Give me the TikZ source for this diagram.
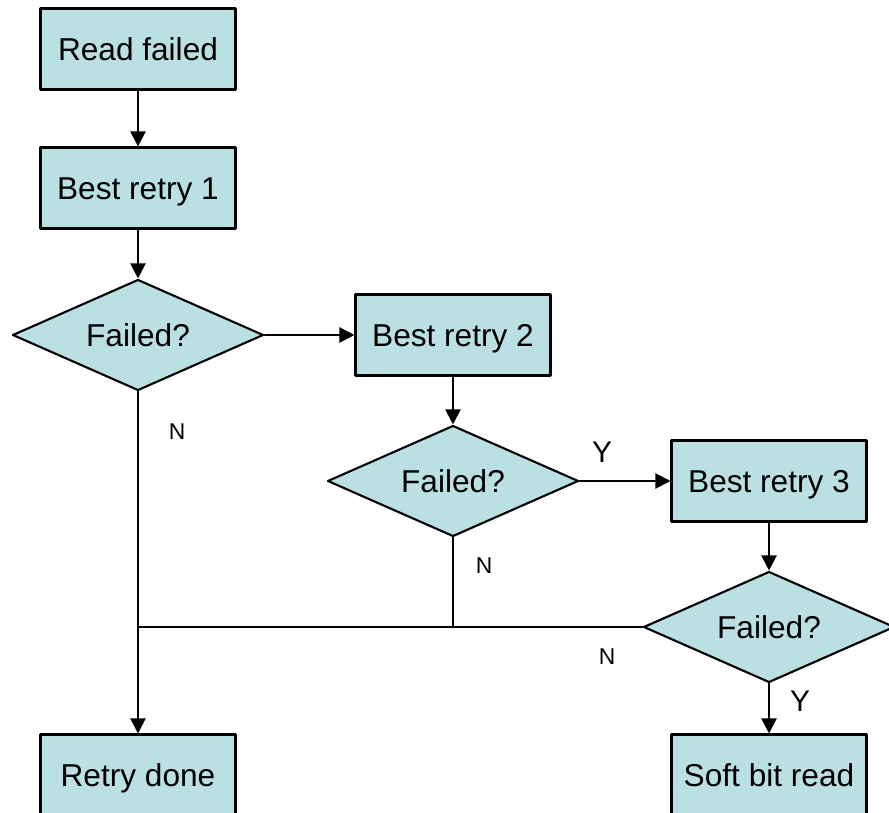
\documentclass[tikz,border=0pt]{standalone}
\usepackage{fontspec}
\setmainfont{Liberation Sans}
\usetikzlibrary{arrows.meta,shapes.geometric}
\definecolor{boxfill}{RGB}{187,224,227}
\tikzset{
  stepbox/.style={draw=black,fill=boxfill,line width=1.2pt,minimum width=3.9cm,minimum height=1.62cm,inner sep=0pt,text height=12.9pt,text depth=0pt,font=\fontsize{18}{21}\selectfont},
  askbox/.style={diamond,aspect=2.26,draw=black,fill=boxfill,line width=1.2pt,minimum width=5.02cm,minimum height=2.22cm,inner sep=0pt,font=\fontsize{18}{21}\selectfont},
  flow/.style={->,line width=1.2pt},
  yes/.style={font=\fontsize{17}{20}\selectfont},
  no/.style={font=\fontsize{13}{15}\selectfont}
}
\begin{document}
\begin{tikzpicture}[line cap=round,line join=round,>={Triangle[width=0.3cm,length=0.3cm]},x=0.02cm,y=-0.02cm]
  \useasboundingbox (0,0) rectangle (889,813);
  \node[stepbox] (read) at (138,49) {Read failed};
  \node[stepbox] (retryA) at (138,188) {Best retry 1};
  \node[askbox] (askA) at (138,335) {Failed?};
  \node[stepbox] (retryB) at (453,335) {Best retry 2};
  \node[askbox] (askB) at (453,481) {Failed?};
  \node[stepbox] (retryC) at (769,481) {Best retry 3};
  \node[askbox] (askC) at (769,627) {Failed?};
  \node[stepbox] (done) at (138,775) {Retry done};
  \node[stepbox] (soft) at (769,775) {Soft bit read};
  \coordinate (join) at (138,627);
  \draw[flow] (read) -- (retryA);
  \draw[flow] (retryA) -- (askA);
  \draw[flow] (askA) -- (retryB);
  \draw[flow] (retryB) -- (askB);
  \draw[flow] (askB) -- (retryC);
  \draw[flow] (retryC) -- (askC);
  \draw[flow] (askC) -- (soft);
  \draw[flow] (askA.south) -- (done.north);
  \draw[line width=1.2pt] (askC.west) -- (join);
  \draw[line width=1.2pt] (askB.south) -- (askB.south |- join);
  % answers
  \node[no] (nA) at (177,432) {N};
  \node[yes] (yB) at (602,452) {Y};
  \node[no] (nB) at (484,566) {N};
  \node[no] (nC) at (607,657) {N};
  \node[yes] (yC) at (800,701) {Y};
\end{tikzpicture}
\end{document}
